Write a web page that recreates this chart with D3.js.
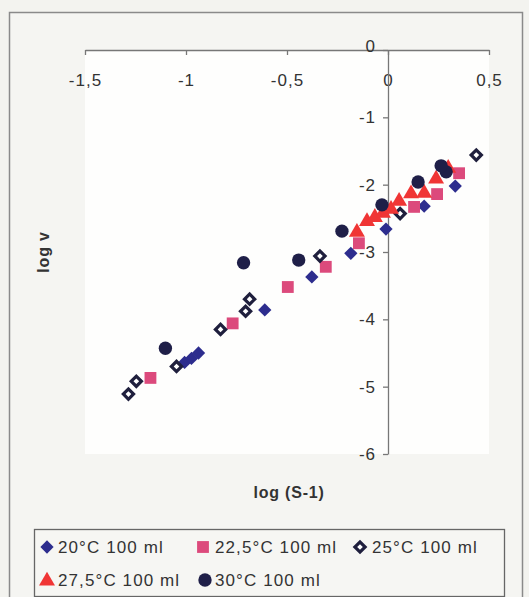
<!DOCTYPE html>
<html><head><meta charset="utf-8">
<script src="https://cdn.jsdelivr.net/npm/d3@7"></script>
<style>body{margin:0;background:#fff}svg{display:block}text{font-family:"Liberation Sans",Arial,sans-serif}</style>
</head><body>
<script>
const xTicks=[-1.5,-1,-0.5,0,0.5];
const yTicks=[0,-1,-2,-3,-4,-5,-6];
const seriesNames=["20°C 100 ml","22,5°C 100 ml","25°C 100 ml","27,5°C 100 ml","30°C 100 ml"];
const s20x=[-1.007,-0.973,-0.938,-0.610,-0.377,-0.184,-0.010,0.179,0.333];
const s20y=[-4.64,-4.58,-4.50,-3.86,-3.37,-3.02,-2.66,-2.32,-2.02];
const s225x=[-1.176,-0.769,-0.496,-0.308,-0.144,0.129,0.243,0.352];
const s225y=[-4.87,-4.06,-3.52,-3.22,-2.87,-2.33,-2.14,-1.83];
const s25x=[-1.285,-1.246,-1.047,-0.829,-0.705,-0.685,-0.337,0.060,0.437];
const s25y=[-5.11,-4.92,-4.70,-4.15,-3.88,-3.70,-3.06,-2.43,-1.56];
const s275x=[-0.154,-0.104,-0.065,-0.025,0.015,0.055,0.114,0.179,0.238,0.298];
const s275y=[-2.69,-2.53,-2.47,-2.41,-2.35,-2.23,-2.12,-2.11,-1.90,-1.74];
const s30x=[-1.102,-0.715,-0.442,-0.228,-0.030,0.149,0.288,0.263];
const s30y=[-4.43,-3.16,-3.12,-2.69,-2.30,-1.96,-1.81,-1.72];

const W=529,H=597;
const svg=d3.select("body").append("svg").attr("width",W).attr("height",H);
svg.append("rect").attr("x",0).attr("y",0).attr("width",W).attr("height",H).attr("fill","#f3f3ef");
svg.append("rect").attr("x",9.5).attr("y",12.5).attr("width",513).attr("height",590).attr("fill","#f5f5f2").attr("stroke","#8a8a8a").attr("stroke-width",1.5);

const x=d3.scaleLinear().domain([-1.5,0.5]).range([85,489]);
const y=d3.scaleLinear().domain([0,-6]).range([50,454]);
svg.append("rect").attr("x",x(-1.5)).attr("y",y(0)).attr("width",x(0.5)-x(-1.5)).attr("height",y(-6)-y(0)).attr("fill","#fefefd");

const fmt=d=>String(d).replace(".",",");
const gx=svg.append("g").attr("transform",`translate(0,${y(0)})`)
 .call(d3.axisBottom(x).tickValues(xTicks).tickFormat(fmt).tickSizeInner(5).tickSizeOuter(0).tickPadding(19));
const gy=svg.append("g").attr("transform",`translate(${x(0)},0)`)
 .call(d3.axisLeft(y).tickValues(yTicks).tickFormat(fmt).tickSizeInner(5).tickSizeOuter(0).tickPadding(7));
[gx,gy].forEach(g=>{g.selectAll("path,line").attr("stroke","#777").attr("stroke-width",1.3);
 g.selectAll("text").attr("font-size",17).attr("letter-spacing",1).attr("fill","#333").attr("font-family","Liberation Sans, Arial, sans-serif");});
gy.selectAll("text").filter(d=>d===0).attr("dy","0.1em");

svg.append("text").attr("x",289).attr("y",498).attr("text-anchor","middle").attr("font-size",16).attr("letter-spacing",0.8).attr("font-weight","bold").attr("fill","#333").text("log (S-1)");
svg.append("text").attr("transform","translate(49,252) rotate(-90)").attr("text-anchor","middle").attr("font-size",16).attr("letter-spacing",0.8).attr("font-weight","bold").attr("fill","#333").text("log v");

function mk(g,k,px,py){
 const t=`translate(${px},${py})`;
 if(k===0) g.append("path").attr("d",d3.symbol().type(d3.symbolSquare).size(88)()).attr("transform",t+" rotate(45)").attr("fill","#2d2d8e");
 else if(k===1) g.append("path").attr("d",d3.symbol().type(d3.symbolSquare).size(140)()).attr("transform",t).attr("fill","#dc4a7c");
 else if(k===2) g.append("path").attr("d",d3.symbol().type(d3.symbolSquare).size(52)()).attr("transform",t+" rotate(45)").attr("fill","#fff").attr("stroke","#1f1f3d").attr("stroke-width",3.2);
 else if(k===3) g.append("path").attr("d",d3.symbol().type(d3.symbolTriangle).size(110)()).attr("transform",`translate(${px},${py+1})`).attr("fill","#f03535");
 else g.append("path").attr("d",d3.symbol().type(d3.symbolCircle).size(140)()).attr("transform",t).attr("fill","#1f1f48");
}
const allx=[s20x,s225x,s25x,s275x,s30x], ally=[s20y,s225y,s25y,s275y,s30y];
const pts=svg.append("g");
allx.forEach((xs,k)=>xs.forEach((v,i)=>mk(pts,k,x(v),y(ally[k][i]))));

// legend
svg.append("rect").attr("x",34.5).attr("y",529.5).attr("width",470).attr("height",67).attr("fill","#f6f6f3").attr("stroke","#666").attr("stroke-width",1.3);
const leg=[[47,547,0,58],[203,547,1,215],[360,547,2,372],[47,580,3,58],[205,580,4,215]];
const lg=svg.append("g");
leg.forEach(([mx,my,k,tx])=>{
 mk(lg,k,mx,my);
 lg.append("text").attr("x",tx).attr("y",my+6).attr("font-size",17).attr("letter-spacing",1.1).attr("fill","#333").text(seriesNames[k]);
});
</script>
</body></html>
